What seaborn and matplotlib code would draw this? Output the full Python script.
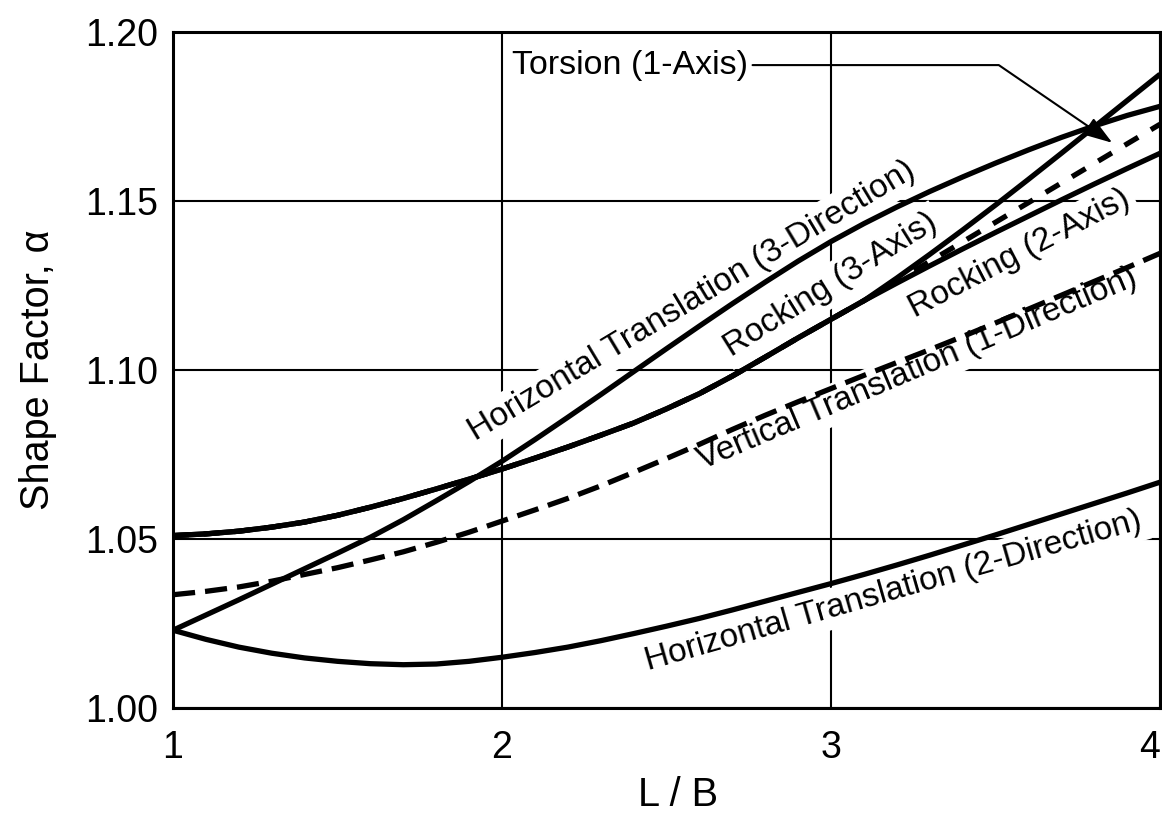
import numpy as np
import pandas as pd
import matplotlib
matplotlib.use("Agg")
import matplotlib.pyplot as plt
import seaborn as sns

# L/B stations
lb = [1.0, 1.1, 1.2, 1.3, 1.4, 1.5, 1.6, 1.7, 1.8, 1.9, 2.0,
      2.1, 2.2, 2.3, 2.4, 2.5, 2.6, 2.7, 2.8, 2.9, 3.0,
      3.1, 3.2, 3.3, 3.4, 3.5, 3.6, 3.7, 3.8, 3.9, 4.0]

# shape factor readings per curve
ht3 = [1.0230, 1.0275, 1.0320, 1.0366, 1.0412, 1.0458, 1.0505, 1.0557, 1.0613, 1.0670, 1.0730,
       1.0794, 1.0860, 1.0927, 1.0995, 1.1063, 1.1130, 1.1196, 1.1260, 1.1322, 1.1380,
       1.1433, 1.1482, 1.1528, 1.1571, 1.1612, 1.1651, 1.1688, 1.1722, 1.1753, 1.1780]
rock3 = [1.0510, 1.0515, 1.0523, 1.0535, 1.0550, 1.0570, 1.0594, 1.0620, 1.0648, 1.0677, 1.0707,
         1.0739, 1.0772, 1.0807, 1.0843, 1.0885, 1.0930, 1.0982, 1.1038, 1.1095, 1.1150,
         1.1205, 1.1272, 1.1342, 1.1414, 1.1488, 1.1564, 1.1641, 1.1719, 1.1797, 1.1875]
rock2 = [1.0510, 1.0515, 1.0523, 1.0535, 1.0550, 1.0570, 1.0594, 1.0620, 1.0648, 1.0677, 1.0707,
         1.0739, 1.0772, 1.0807, 1.0843, 1.0885, 1.0930, 1.0982, 1.1038, 1.1095, 1.1150,
         1.1205, 1.1257, 1.1308, 1.1358, 1.1407, 1.1455, 1.1503, 1.1550, 1.1596, 1.1641]
torsion = [1.0510, 1.0515, 1.0523, 1.0535, 1.0550, 1.0570, 1.0594, 1.0620, 1.0648, 1.0677, 1.0707,
           1.0739, 1.0772, 1.0807, 1.0843, 1.0885, 1.0930, 1.0982, 1.1038, 1.1095, 1.1150,
           1.1205, 1.1263, 1.1321, 1.1379, 1.1437, 1.1495, 1.1553, 1.1611, 1.1669, 1.1727]
vert = [1.0335, 1.0345, 1.0358, 1.0375, 1.0395, 1.0415, 1.0438, 1.0462, 1.0490, 1.0520, 1.0553,
        1.0586, 1.0620, 1.0657, 1.0697, 1.0738, 1.0780, 1.0824, 1.0866, 1.0906, 1.0945,
        1.0984, 1.1022, 1.1060, 1.1099, 1.1139, 1.1180, 1.1221, 1.1262, 1.1303, 1.1345]
ht2 = [1.0230, 1.0203, 1.0180, 1.0162, 1.0148, 1.0138, 1.0131, 1.0128, 1.0130, 1.0138, 1.0150,
       1.0164, 1.0180, 1.0199, 1.0220, 1.0242, 1.0265, 1.0290, 1.0316, 1.0342, 1.0368,
       1.0395, 1.0423, 1.0452, 1.0482, 1.0512, 1.0543, 1.0574, 1.0605, 1.0636, 1.0668]

x_ticks = [1, 2, 3, 4]
y_ticks = [1.00, 1.05, 1.10, 1.15, 1.20]
y_tick_labels = ["1.00", "1.05", "1.10", "1.15", "1.20"]

curves = {
    "Torsion (1-Axis)": torsion,
    "Vertical Translation (1-Direction)": vert,
    "Horizontal Translation (2-Direction)": ht2,
    "Rocking (2-Axis)": rock2,
    "Rocking (3-Axis)": rock3,
    "Horizontal Translation (3-Direction)": ht3,
}

df = pd.concat([pd.DataFrame({"curve": k, "LB": lb, "alpha": v}) for k, v in curves.items()],
               ignore_index=True)

sns.set_theme(style="white")
plt.rcParams["font.family"] = ["Liberation Sans", "DejaVu Sans"]

fig, ax = plt.subplots(figsize=(11.62, 8.26), dpi=100)
fig.subplots_adjust(left=0.1489, right=0.9983, bottom=0.1429, top=0.9613)

dash_style = {
    "Torsion (1-Axis)": (0, (3.0, 2.8)),
    "Vertical Translation (1-Direction)": (0, (4.2, 1.9)),
}
for name in curves:
    sub = df[df["curve"] == name]
    sns.lineplot(data=sub, x="LB", y="alpha", ax=ax, color="black", lw=3.8,
                 linestyle=dash_style.get(name, "-"), estimator=None, sort=False,
                 zorder=5, solid_capstyle="butt", dash_capstyle="butt")

# curve labels sitting along the lines (white box hides the grid behind)
labels = [
    ("Horizontal Translation (3-Direction)", 2.578, 1.1204, 31),
    ("Rocking (3-Axis)", 3.0, 1.1251, 32),
    ("Rocking (2-Axis)", 3.574, 1.1343, 27.5),
    ("Vertical Translation (1-Direction)", 3.261, 1.1003, 23),
    ("Horizontal Translation (2-Direction)", 3.191, 1.0346, 16),
]
for txt, x, y, ang in labels:
    ax.text(x, y, txt, rotation=ang, rotation_mode="anchor", ha="center", va="center",
            fontsize=24, color="black", zorder=3,
            bbox=dict(boxstyle="square,pad=0.15", fc="white", ec="none"))

ax.annotate("Torsion (1-Axis)", xy=(3.855, 1.1672), xytext=(2.03, 1.1902),
            ha="left", va="center", fontsize=24.5, color="black", zorder=6,
            arrowprops=dict(arrowstyle="-|>,head_length=0.9,head_width=0.3",
                            connectionstyle="angle,angleA=0,angleB=145.6,rad=0",
                            color="black", lw=1.5, shrinkA=1, shrinkB=0,
                            mutation_scale=20))

ax.set_xlim(1, 4)
ax.set_ylim(1.0, 1.2)
ax.set_xticks(x_ticks)
ax.set_xticklabels([str(t) for t in x_ticks])
ax.set_yticks(y_ticks)
ax.set_yticklabels(y_tick_labels)
ax.tick_params(length=0, labelsize=27, colors="black")
ax.tick_params(axis="x", pad=16)
ax.tick_params(axis="y", pad=11)
# last x label sits at the figure edge; keep it inside
ax.get_xticklabels()[-1].set_ha("right")

ax.grid(True, color="black", lw=1.5)
ax.set_axisbelow(True)
for s in ax.spines.values():
    s.set_linewidth(2.2)
    s.set_color("black")
    s.set_zorder(6)

ax.set_xlabel("L / B", fontsize=28.5, color="black", va="center")
ax.set_ylabel("Shape Factor, α", fontsize=28.5, color="black", va="center")
ax.xaxis.set_label_coords(0.512, -0.129)
ax.yaxis.set_label_coords(-0.137, 0.5)

fig.savefig("out.png", dpi=100)
